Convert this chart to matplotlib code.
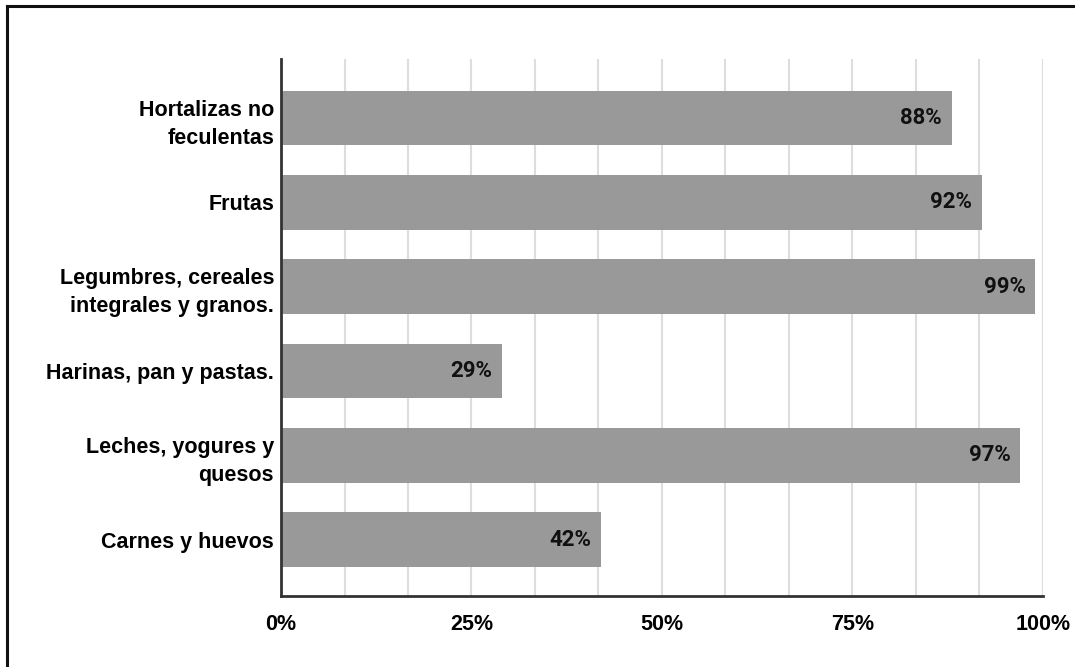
import matplotlib
matplotlib.use("Agg")
import matplotlib.pyplot as plt
from matplotlib.lines import Line2D
from matplotlib.ticker import FixedLocator

categories = ["Hortalizas no\nfeculentas", "Frutas", "Legumbres, cereales\nintegrales y granos.",
              "Harinas, pan y pastas.", "Leches, yogures y\nquesos", "Carnes y huevos"]
values = [88, 92, 99, 29, 97, 42]
major_ticks = [0, 25, 50, 75, 100]
tick_labels = ["0%", "25%", "50%", "75%", "100%"]
minor_ticks = [100 * i / 12 for i in range(13)]

fig = plt.figure(figsize=(10.75, 6.67), dpi=100)
ax = fig.add_axes([0.2614, 0.1064, 0.7088, 0.8051])

y = list(range(len(categories)))
ax.barh(y, values, height=0.65, color="#999999", zorder=3)
for yi, v in zip(y, values):
    ax.annotate(f"{v}%", xy=(v, yi), xytext=(-7, 0), textcoords="offset points",
                ha="right", va="center", fontsize=16, fontweight="bold",
                family=["Roboto", "DejaVu Sans"], color="#111111", zorder=4)

ax.set_xlim(0, 100)
ax.set_ylim(len(categories) - 0.33, -0.70)
ax.set_yticks(y)
ax.set_yticklabels(categories, fontsize=15.5, fontweight="bold",
                   family=["Liberation Sans", "DejaVu Sans"], ha="right",
                   multialignment="right", linespacing=1.45)
ax.xaxis.set_major_locator(FixedLocator(major_ticks))
ax.set_xticklabels(tick_labels, fontsize=15.5, fontweight="bold", family=["Liberation Sans", "DejaVu Sans"])
ax.xaxis.set_minor_locator(FixedLocator(minor_ticks))
ax.tick_params(axis="both", which="both", length=0)
ax.tick_params(axis="x", pad=13)
ax.tick_params(axis="y", pad=5)
ax.grid(axis="x", which="both", color="#dddddd", linewidth=1.5, zorder=0)
ax.grid(axis="y", visible=False)
for s in ["top", "right"]:
    ax.spines[s].set_visible(False)
ax.spines["left"].set_color("#333333")
ax.spines["bottom"].set_color("#333333")
ax.spines["left"].set_linewidth(2)
ax.spines["bottom"].set_linewidth(2)
ax.spines["left"].set_zorder(5)

# frame around figure (left and top edges visible)
fig.add_artist(Line2D([7 / 1075, 7 / 1075], [0, 1 - 6 / 667], transform=fig.transFigure,
                      color="#111111", linewidth=2.2))
fig.add_artist(Line2D([7 / 1075, 1], [1 - 6 / 667, 1 - 6 / 667], transform=fig.transFigure,
                      color="#111111", linewidth=2.2))

fig.savefig("out.png", dpi=100)
